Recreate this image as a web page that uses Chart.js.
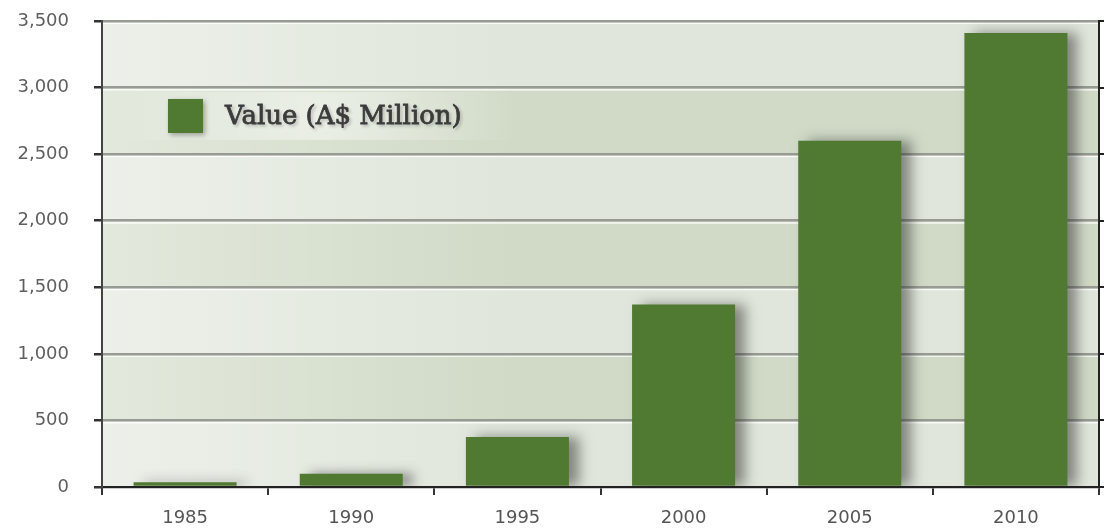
<!DOCTYPE html>
<html>
<head>
<meta charset="utf-8">
<script src="https://cdn.jsdelivr.net/npm/chart.js@4"></script>
<style>
  html, body { margin: 0; padding: 0; background: #fff; }
  #wrap { width: 1104px; height: 529px; }
</style>
</head>
<body>
<div id="wrap"><canvas id="valueChart" width="1104" height="529"></canvas></div>
<script>
const years = ['1985', '1990', '1995', '2000', '2005', '2010'];
const values = [35, 100, 375, 1370, 2600, 3410];
const seriesLabel = 'Value (A$ Million)';
const yTicks = [0, 500, 1000, 1500, 2000, 2500, 3000, 3500];

const barGreen = '#507a31';

// striped background between gridlines + white highlight under each line
const bandsPlugin = {
    id: 'bands',
    beforeDraw(chart) {
        const { ctx, chartArea: a, scales: { y } } = chart;
        ctx.save();
        for (let i = 0; i < yTicks.length - 1; i++) {
            const top = y.getPixelForValue(yTicks[i + 1]);
            const bot = y.getPixelForValue(yTicks[i]);
            ctx.fillStyle = i % 2 === 0 ? '#e0e6db' : '#d0dac6';
            ctx.fillRect(a.left, top, a.right - a.left, bot - top);
        }
        // lighter glow on the left side
        const g = ctx.createLinearGradient(a.left, 0, a.left + 420, 0);
        g.addColorStop(0, 'rgba(255,255,255,0.4)');
        g.addColorStop(1, 'rgba(255,255,255,0)');
        ctx.fillStyle = g;
        ctx.fillRect(a.left, a.top, 420, a.bottom - a.top);
        ctx.fillStyle = 'rgba(255,255,255,0.85)';
        yTicks.forEach(v => {
            if (v === 0) return;
            const py = y.getPixelForValue(v);
            ctx.fillRect(a.left, py + 1.5, a.right - a.left, 1.5);
        });
        ctx.restore();
    }
};

const shadowPlugin = {
    id: 'barShadow',
    beforeDatasetsDraw(chart) {
        const ctx = chart.ctx;
        ctx.save();
        ctx.shadowColor = 'rgba(40,40,40,0.5)';
        ctx.shadowBlur = 12;
        ctx.shadowOffsetX = 10;
        ctx.shadowOffsetY = 0;
    },
    afterDatasetsDraw(chart) {
        chart.ctx.restore();
    }
};

const legendPlugin = {
    id: 'innerLegend',
    afterDatasetsDraw(chart) {
        const { ctx, chartArea: a } = chart;
        const x = a.left + 66, yMid = 116;
        ctx.save();
        // faint white glow behind the legend
        const g = ctx.createRadialGradient(x + 150, yMid, 10, x + 150, yMid, 200);
        g.addColorStop(0, 'rgba(255,255,255,0.45)');
        g.addColorStop(1, 'rgba(255,255,255,0)');
        ctx.fillStyle = g;
        ctx.fillRect(x - 40, yMid - 24, 400, 48);
        ctx.shadowColor = 'rgba(40,40,40,0.4)';
        ctx.shadowBlur = 5;
        ctx.shadowOffsetX = 2;
        ctx.shadowOffsetY = 2;
        ctx.fillStyle = barGreen;
        ctx.fillRect(x, yMid - 17, 35, 34);
        ctx.shadowColor = 'rgba(60,60,60,0.2)';
        ctx.shadowBlur = 3;
        ctx.fillStyle = '#3c3c3c';
        ctx.strokeStyle = '#3c3c3c';
        ctx.lineWidth = 0.8;
        ctx.font = '26px "DejaVu Serif"';
        ctx.textBaseline = 'middle';
        const label = chart.data.datasets[0].label;
        ctx.fillText(label, x + 57, yMid + 1);
        ctx.strokeText(label, x + 57, yMid + 1);
        ctx.restore();
    }
};

function fixVertical(width) {
    return scale => {
        scale.width = width;
        scale.paddingTop = 0;
        scale.paddingBottom = 0;
    };
}

new Chart(document.getElementById('valueChart'), {
    type: 'bar',
    data: {
        labels: years,
        datasets: [{
            label: seriesLabel,
            data: values,
            backgroundColor: barGreen,
            borderWidth: 0,
            categoryPercentage: 1,
            barPercentage: 0.62
        }]
    },
    options: {
        responsive: false,
        animation: false,
        layout: { padding: { top: 21, left: 12, right: 0, bottom: 0 } },
        plugins: { legend: { display: false }, tooltip: { enabled: false } },
        scales: {
            x: {
                grid: { offset: true, drawOnChartArea: false, tickLength: 8, tickColor: '#333', lineWidth: 2 },
                border: { color: '#222', width: 2 },
                ticks: { color: '#555', font: { family: 'DejaVu Sans', size: 18 }, padding: 13 },
                afterFit(scale) { scale.height = 42; }
            },
            y: {
                min: 0, max: 3500,
                grid: { color: '#979b93', lineWidth: 2.5, tickLength: 8, tickColor: '#333' },
                border: { color: '#444', width: 2 },
                ticks: {
                    stepSize: 500, color: '#5f5f5f', padding: 25,
                    font: { family: 'DejaVu Sans', size: 18 },
                    callback: v => v.toLocaleString('en-US')
                },
                afterFit: fixVertical(90)
            },
            y2: {
                position: 'right',
                min: 0, max: 3500,
                grid: { drawOnChartArea: false, tickLength: 5, tickColor: '#222', lineWidth: 2 },
                border: { color: '#222', width: 2 },
                ticks: { stepSize: 500, callback: () => '', padding: 0 },
                afterFit: fixVertical(5)
            }
        }
    },
    plugins: [bandsPlugin, shadowPlugin, legendPlugin]
});
</script>
</body>
</html>
